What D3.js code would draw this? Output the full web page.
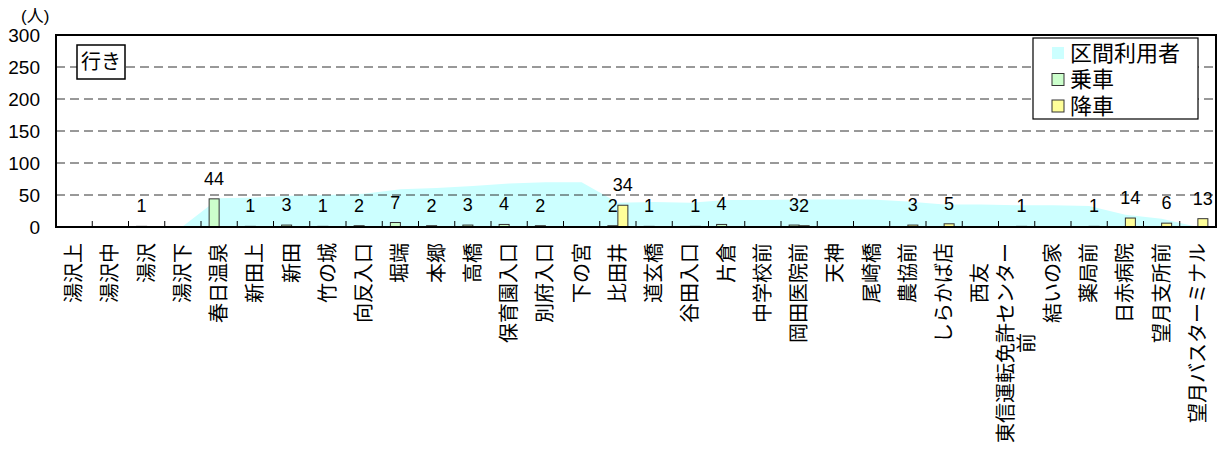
<!DOCTYPE html>
<html>
<head>
<meta charset="utf-8">
<script src="https://cdn.jsdelivr.net/npm/d3@7"></script>
<style>
  body { margin: 0; background: #fff; }
  text { font-family: "Liberation Sans", "Noto Sans CJK JP", sans-serif; fill: #000; }
</style>
</head>
<body>
<div id="chart"></div>
<script>
// Bus stops (outbound), "\n" = wrapped label line
var stops = ["湯沢上", "湯沢中", "湯沢", "湯沢下", "春日温泉", "新田上", "新田", "竹の城", "向反入口", "堀端",
  "本郷", "高橋", "保育園入口", "別府入口", "下の宮", "比田井", "道玄橋", "谷田入口", "片倉", "中学校前",
  "岡田医院前", "天神", "尾崎橋", "農協前", "しらかば店", "西友\u3000", "東信運転免許センター\n前", "結いの家", "薬局前", "日赤病院",
  "望月支所前", "望月バスターミナル"];

// 区間利用者 (riders on board per section)
var riders = [0, 0, 1, 1, 45, 46, 49, 50, 52, 59, 61, 64, 68, 70, 70, 38, 39, 38, 42, 42,
  43, 43, 43, 40, 35, 35, 34, 34, 33, 19, 13, 0];
// 乗車 (boarding)
var boarding = [0, 0, 1, 0, 44, 1, 3, 1, 2, 7, 2, 3, 4, 2, 0, 2, 1, 0, 4, 0,
  3, 0, 0, 0, 0, 0, 0, 0, 0, 0, 0, 0];
// 降車 (alighting)
var alighting = [0, 0, 0, 0, 0, 0, 0, 0, 0, 0, 0, 0, 0, 0, 0, 34, 0, 1, 0, 0,
  2, 0, 0, 3, 5, 0, 1, 0, 1, 14, 6, 13];

var yTicks = [0, 50, 100, 150, 200, 250, 300];

var colors = {riders: "#ccffff", boarding: "#ccffcc", alighting: "#ffff99"};

var width = 1223, height = 458;
var margin = {top: 35, right: 7, bottom: 231, left: 56};
var plotW = width - margin.left - margin.right,
    plotH = height - margin.top - margin.bottom;

var svg = d3.select("#chart").append("svg")
  .attr("width", width)
  .attr("height", height);

var g = svg.append("g")
  .attr("transform", "translate(" + margin.left + "," + margin.top + ")");

var x = d3.scaleBand().domain(d3.range(stops.length)).range([0, plotW]);
var y = d3.scaleLinear().domain([0, 300]).range([plotH, 0]);
var barW = 10;

// area of riders
var area = d3.area()
  .x(function(d, i) { return x(i) + x.bandwidth() / 2; })
  .y0(y(0))
  .y1(function(d) { return y(d); });

g.append("path")
  .datum(riders)
  .attr("d", area)
  .style("fill", colors.riders);

// gridlines
g.selectAll(".grid")
  .data(yTicks.filter(function(d) { return d > 0 && d < 300; }))
  .enter().append("line")
    .attr("x1", 0).attr("x2", plotW)
    .attr("y1", function(d) { return y(d); })
    .attr("y2", function(d) { return y(d); })
    .style("stroke", "#333")
    .style("stroke-width", 1)
    .style("stroke-dasharray", "9,5");

// bars
function drawBars(values, offset, color) {
  var items = values.map(function(v, i) { return {i: i, v: v}; }).filter(function(d) { return d.v > 0; });
  g.selectAll(null)
    .data(items)
    .enter().append("rect")
      .attr("x", function(d) { return x(d.i) + x.bandwidth() / 2 + offset; })
      .attr("y", function(d) { return y(d.v); })
      .attr("width", barW)
      .attr("height", function(d) { return y(0) - y(d.v); })
      .style("fill", color)
      .style("stroke", "#333")
      .style("stroke-width", 1);
  g.selectAll(null)
    .data(items)
    .enter().append("text")
      .attr("x", function(d) { return x(d.i) + x.bandwidth() / 2 + offset + barW / 2; })
      .attr("y", function(d) { return y(d.v) - 20; })
      .attr("text-anchor", "middle")
      .attr("dominant-baseline", "central")
      .style("font-size", "18px")
      .text(function(d) { return d.v; });
}
drawBars(boarding, -barW, colors.boarding);
drawBars(alighting, 0, colors.alighting);

// x tick marks (inside)
g.selectAll(".xtick")
  .data(d3.range(1, stops.length))
  .enter().append("line")
    .attr("x1", function(d) { return x(d); })
    .attr("x2", function(d) { return x(d); })
    .attr("y1", plotH)
    .attr("y2", plotH - 6)
    .style("stroke", "#000")
    .style("stroke-width", 1);

// frame
g.append("rect")
  .attr("x", 0).attr("y", 0)
  .attr("width", plotW).attr("height", plotH)
  .style("fill", "none")
  .style("stroke", "#000")
  .style("stroke-width", 2);

// y axis labels
g.selectAll(".ylab")
  .data(yTicks)
  .enter().append("text")
    .attr("x", -16)
    .attr("y", function(d) { return y(d); })
    .attr("text-anchor", "end")
    .attr("dominant-baseline", "central")
    .style("font-size", "19px")
    .text(function(d) { return d; });

svg.append("text")
  .attr("x", 21).attr("y", 16)
  .attr("dominant-baseline", "central")
  .style("font-size", "17px")
  .text("(人)");

// x labels, rotated, wrapped lines centered in the block
var fs = 20, lineH = 21;
stops.forEach(function(name, i) {
  var lines = name.split("\n");
  var lab = g.append("g")
    .attr("transform", "translate(" + (x(i) + x.bandwidth() / 2) + "," + (plotH + 16) + ") rotate(-90)");
  var texts = lines.map(function(line, k) {
    return lab.append("text")
      .attr("text-anchor", "middle")
      .attr("dominant-baseline", "central")
      .attr("y", (k - (lines.length - 1) / 2) * lineH)
      .style("font-size", fs + "px")
      .text(line);
  });
  var maxLen = d3.max(texts, function(t) { return t.node().getComputedTextLength(); });
  texts.forEach(function(t) { t.attr("x", -maxLen / 2); });
});

// "行き" box
var tag = svg.append("g").attr("transform", "translate(77,45)");
tag.append("rect")
  .attr("width", 48).attr("height", 34)
  .style("fill", "#fff")
  .style("stroke", "#000")
  .style("stroke-width", 1.5);
tag.append("text")
  .attr("x", 24).attr("y", 17)
  .attr("text-anchor", "middle")
  .attr("dominant-baseline", "central")
  .style("font-size", "20px")
  .text("行き");

// legend
var legendItems = [
  {label: "区間利用者", color: colors.riders, border: false},
  {label: "乗車", color: colors.boarding, border: true},
  {label: "降車", color: colors.alighting, border: true}
];
var legend = svg.append("g").attr("transform", "translate(1033,38)");
legend.append("rect")
  .attr("width", 165).attr("height", 81)
  .style("fill", "#fff")
  .style("stroke", "#000")
  .style("stroke-width", 1.2);
var rows = legend.selectAll(".row")
  .data(legendItems)
  .enter().append("g")
    .attr("transform", function(d, i) { return "translate(0," + (15 + i * 26.5) + ")"; });
rows.append("rect")
  .attr("x", 19).attr("y", -6)
  .attr("width", 12).attr("height", 12)
  .style("fill", function(d) { return d.color; })
  .style("stroke", function(d) { return d.border ? "#333" : "none"; });
rows.append("text")
  .attr("x", 37)
  .attr("dominant-baseline", "central")
  .style("font-size", "22px")
  .text(function(d) { return d.label; });
</script>
</body>
</html>
